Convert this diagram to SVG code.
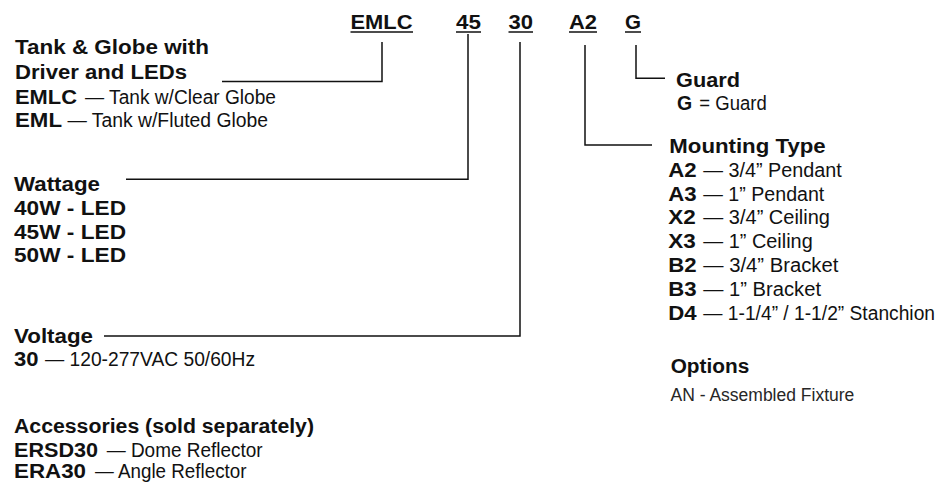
<svg xmlns="http://www.w3.org/2000/svg" width="951" height="482" viewBox="0 0 951 482">
<style>
.b{font-family:"Liberation Sans",Arial,sans-serif;font-weight:bold;font-size:19.5px;fill:#111}
.c{font-family:"Liberation Sans",Arial,sans-serif;font-weight:bold;font-size:20.5px;fill:#111}
.r{font-family:"Liberation Sans",Arial,sans-serif;font-size:19.5px;fill:#111}
.s{font-family:"Liberation Sans",Arial,sans-serif;font-size:17.5px;fill:#262626}
.ln{fill:none;stroke:#111;stroke-width:1.5}
</style>
<rect width="951" height="482" fill="#fff"/>
<g id="codes">
  <g id="code-emlc"><text class="c" x="350.5" y="29" textLength="62" lengthAdjust="spacingAndGlyphs">EMLC</text><line class="ln" x1="350.5" y1="32" x2="413" y2="32"/></g>
  <g id="code-45"><text class="c" x="456" y="29" textLength="25" lengthAdjust="spacingAndGlyphs">45</text><line class="ln" x1="456" y1="32" x2="481" y2="32"/></g>
  <g id="code-30"><text class="c" x="508.5" y="29" textLength="24.5" lengthAdjust="spacingAndGlyphs">30</text><line class="ln" x1="508.5" y1="32" x2="533" y2="32"/></g>
  <g id="code-a2"><text class="c" x="569" y="29" textLength="28" lengthAdjust="spacingAndGlyphs">A2</text><line class="ln" x1="569" y1="32" x2="597" y2="32"/></g>
  <g id="code-g"><text class="c" x="625" y="29" textLength="16" lengthAdjust="spacingAndGlyphs">G</text><line class="ln" x1="625" y1="32" x2="641" y2="32"/></g>
</g>
<g id="connectors">
  <path class="ln" d="M382,42 V81.5 H222"/>
  <path class="ln" d="M468,34 V179.3 H126"/>
  <path class="ln" d="M520,42 V336 H104"/>
  <path class="ln" d="M585,45 V145 H652"/>
  <path class="ln" d="M636,45 V78.3 H665"/>
</g>
<g id="tank-globe">
  <text class="b" x="15" y="54" textLength="194" lengthAdjust="spacingAndGlyphs">Tank &amp; Globe with</text>
  <text class="b" x="15" y="79" textLength="172" lengthAdjust="spacingAndGlyphs">Driver and LEDs</text>
  <text class="b" x="15" y="104" textLength="62" lengthAdjust="spacingAndGlyphs">EMLC</text>
  <text class="r" x="85" y="104" textLength="191" lengthAdjust="spacingAndGlyphs">— Tank w/Clear Globe</text>
  <text class="b" x="15" y="127" textLength="47" lengthAdjust="spacingAndGlyphs">EML</text>
  <text class="r" x="67.5" y="127" textLength="200.5" lengthAdjust="spacingAndGlyphs">— Tank w/Fluted Globe</text>
</g>
<g id="wattage">
  <text class="b" x="14" y="191" textLength="86" lengthAdjust="spacingAndGlyphs">Wattage</text>
  <text class="b" x="14" y="215" textLength="112" lengthAdjust="spacingAndGlyphs">40W - LED</text>
  <text class="b" x="14" y="238.5" textLength="112" lengthAdjust="spacingAndGlyphs">45W - LED</text>
  <text class="b" x="14" y="262" textLength="112" lengthAdjust="spacingAndGlyphs">50W - LED</text>
</g>
<g id="voltage">
  <text class="b" x="14" y="343" textLength="79" lengthAdjust="spacingAndGlyphs">Voltage</text>
  <text class="b" x="14" y="366" textLength="24.5" lengthAdjust="spacingAndGlyphs">30</text>
  <text class="r" x="45" y="366" textLength="210" lengthAdjust="spacingAndGlyphs">— 120-277VAC 50/60Hz</text>
</g>
<g id="accessories">
  <text class="b" x="14" y="433" textLength="300" lengthAdjust="spacingAndGlyphs">Accessories (sold separately)</text>
  <text class="b" x="14" y="456.5" textLength="84" lengthAdjust="spacingAndGlyphs">ERSD30</text>
  <text class="r" x="106.7" y="456.5" textLength="156" lengthAdjust="spacingAndGlyphs">— Dome Reflector</text>
  <text class="b" x="14" y="478" textLength="72" lengthAdjust="spacingAndGlyphs">ERA30</text>
  <text class="r" x="95" y="478" textLength="151.5" lengthAdjust="spacingAndGlyphs">— Angle Reflector</text>
</g>
<g id="guard">
  <text class="b" x="676" y="86.7" textLength="64" lengthAdjust="spacingAndGlyphs">Guard</text>
  <text class="b" x="677" y="110">G</text>
  <text class="r" x="699.3" y="110" textLength="67.4" lengthAdjust="spacingAndGlyphs">= Guard</text>
</g>
<g id="mounting-type">
  <text class="b" x="669.3" y="153.3" textLength="156.4" lengthAdjust="spacingAndGlyphs">Mounting Type</text>
  <text class="b" x="668.3" y="177.3" textLength="28.4" lengthAdjust="spacingAndGlyphs">A2</text>
  <text class="r" x="703.3" y="177.3" textLength="138.4" lengthAdjust="spacingAndGlyphs">— 3/4” Pendant</text>
  <text class="b" x="668.3" y="200.5" textLength="28.4" lengthAdjust="spacingAndGlyphs">A3</text>
  <text class="r" x="703.3" y="200.5" textLength="121" lengthAdjust="spacingAndGlyphs">— 1” Pendant</text>
  <text class="b" x="668.3" y="224" textLength="27.5" lengthAdjust="spacingAndGlyphs">X2</text>
  <text class="r" x="703.3" y="224" textLength="126.7" lengthAdjust="spacingAndGlyphs">— 3/4” Ceiling</text>
  <text class="b" x="668.3" y="247.8" textLength="27.5" lengthAdjust="spacingAndGlyphs">X3</text>
  <text class="r" x="703.3" y="247.8" textLength="109.4" lengthAdjust="spacingAndGlyphs">— 1” Ceiling</text>
  <text class="b" x="668.3" y="271.8" textLength="28.4" lengthAdjust="spacingAndGlyphs">B2</text>
  <text class="r" x="703.3" y="271.8" textLength="135" lengthAdjust="spacingAndGlyphs">— 3/4” Bracket</text>
  <text class="b" x="668.3" y="295.5" textLength="28.4" lengthAdjust="spacingAndGlyphs">B3</text>
  <text class="r" x="703.3" y="295.5" textLength="117.7" lengthAdjust="spacingAndGlyphs">— 1” Bracket</text>
  <text class="b" x="668.3" y="319.5" textLength="28.4" lengthAdjust="spacingAndGlyphs">D4</text>
  <text class="r" x="703.3" y="319.5" textLength="231.7" lengthAdjust="spacingAndGlyphs">— 1-1/4” / 1-1/2” Stanchion</text>
</g>
<g id="options">
  <text class="b" x="670.7" y="373.3" textLength="78.6" lengthAdjust="spacingAndGlyphs">Options</text>
  <text class="s" x="670.5" y="401">AN - Assembled Fixture</text>
</g>
</svg>
